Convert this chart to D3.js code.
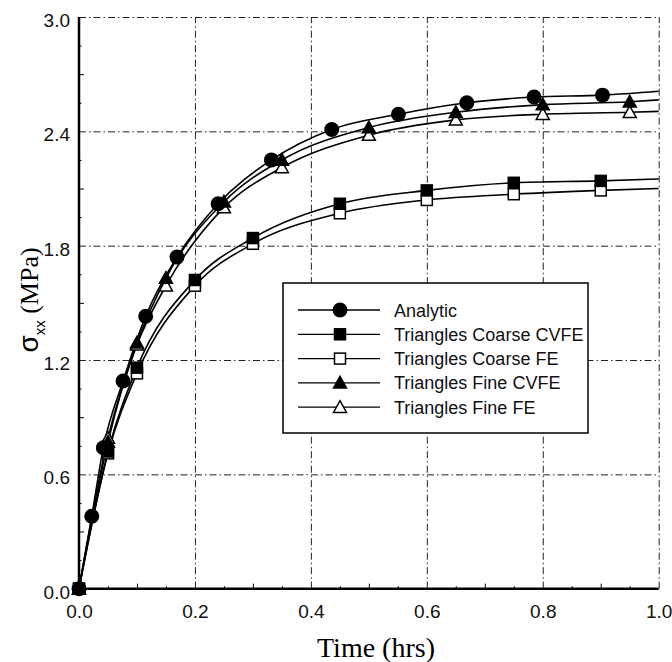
<!DOCTYPE html>
<html lang="en">
<head>
<meta charset="utf-8" />
<title>sigma xx vs time</title>
<script src="https://d3js.org/d3.v7.min.js"></script>
<style>
    body { margin: 0; background: #fff; }
    .tick text { font-family: "Liberation Sans", Arial, sans-serif; font-size: 19px; fill: #111; }
    .legend text { font-family: "Liberation Sans", Arial, sans-serif; font-size: 18px; fill: #111; }
</style>
</head>
<body>
<div id="chart"></div>
<script>
    // ---- data ----
    const seriesNames = ["Analytic", "Triangles Coarse CVFE", "Triangles Coarse FE", "Triangles Fine CVFE", "Triangles Fine FE"];
    const markerTypes = ["circleFilled", "squareFilled", "squareOpen", "triFilled", "triOpen"];

    const analyticT = [0, 0.022, 0.042, 0.076, 0.115, 0.169, 0.24, 0.332, 0.436, 0.551, 0.669, 0.785, 0.903];
    const analyticS = [0, 0.38, 0.74, 1.09, 1.43, 1.74, 2.02, 2.25, 2.41, 2.49, 2.55, 2.58, 2.59];

    const coarseT = [0, 0.05, 0.1, 0.2, 0.3, 0.45, 0.6, 0.75, 0.9];
    const coarseCvfeS = [0, 0.72, 1.16, 1.62, 1.84, 2.02, 2.09, 2.13, 2.14];
    const coarseFeS = [0, 0.71, 1.13, 1.59, 1.81, 1.97, 2.04, 2.07, 2.09];

    const fineT = [0, 0.05, 0.1, 0.15, 0.25, 0.35, 0.5, 0.65, 0.8, 0.95];
    const fineCvfeS = [0, 0.77, 1.29, 1.63, 2.03, 2.25, 2.42, 2.50, 2.54, 2.555];
    const fineFeS = [0, 0.79, 1.28, 1.59, 2.0, 2.21, 2.38, 2.46, 2.49, 2.50];

    // curve values where the lines leave the plot at t = 1.0
    const endValues = [2.61, 2.15, 2.10, 2.565, 2.505];

    const xTicks = [0, 0.2, 0.4, 0.6, 0.8, 1.0];
    const yTicks = [0, 0.6, 1.2, 1.8, 2.4, 3.0];

    const seriesT = [analyticT, coarseT, coarseT, fineT, fineT];
    const seriesS = [analyticS, coarseCvfeS, coarseFeS, fineCvfeS, fineFeS];

    // ---- layout ----
    const W = 672, H = 662;
    const plotL = 79, plotR = 658.7, plotT = 17, plotB = 588.7;

    const x = d3.scaleLinear().domain([0, 1]).range([plotL, plotR]);
    const y = d3.scaleLinear().domain([0, 3]).range([plotB, plotT]);

    const svg = d3.select("#chart").append("svg")
        .attr("width", W)
        .attr("height", H);

    // grid (dash-dot)
    const gridDash = "7,3,1.5,3";
    svg.append("g")
        .attr("transform", "translate(0," + plotB + ")")
        .call(d3.axisBottom(x).tickValues(xTicks.slice(1)).tickSize(-(plotB - plotT)).tickFormat(""))
        .call(g => g.select(".domain").remove())
        .selectAll("line")
            .attr("stroke", "#222")
            .attr("stroke-width", 1)
            .attr("stroke-dasharray", gridDash);

    svg.append("g")
        .attr("transform", "translate(" + plotL + ",0)")
        .call(d3.axisLeft(y).tickValues(yTicks.slice(1)).tickSize(-(plotR - plotL)).tickFormat(""))
        .call(g => g.select(".domain").remove())
        .selectAll("line")
            .attr("stroke", "#222")
            .attr("stroke-width", 1)
            .attr("stroke-dasharray", gridDash);

    // minor ticks (inside)
    const xMinor = d3.range(0.1, 1, 0.2);
    const xTiny = d3.range(0.05, 1, 0.1);
    const yMinor = d3.range(0.3, 3, 0.6);
    const yTiny = d3.range(0.15, 3, 0.3);

    svg.append("g")
        .attr("transform", "translate(0," + plotB + ")")
        .call(d3.axisBottom(x).tickValues(xMinor).tickSize(-5).tickFormat(""))
        .call(g => g.select(".domain").remove());
    svg.append("g")
        .attr("transform", "translate(0," + plotB + ")")
        .call(d3.axisBottom(x).tickValues(xTiny).tickSize(-2.5).tickFormat(""))
        .call(g => g.select(".domain").remove());
    svg.append("g")
        .attr("transform", "translate(" + plotL + ",0)")
        .call(d3.axisLeft(y).tickValues(yMinor).tickSize(-5).tickFormat(""))
        .call(g => g.select(".domain").remove());
    svg.append("g")
        .attr("transform", "translate(" + plotL + ",0)")
        .call(d3.axisLeft(y).tickValues(yTiny).tickSize(-2.5).tickFormat(""))
        .call(g => g.select(".domain").remove());

    // tick labels
    svg.append("g")
        .attr("transform", "translate(0," + plotB + ")")
        .call(d3.axisBottom(x).tickValues(xTicks).tickSize(0).tickPadding(16).tickFormat(d3.format(".1f")))
        .call(g => g.select(".domain").remove());
    svg.append("g")
        .attr("transform", "translate(" + plotL + ",0)")
        .call(d3.axisLeft(y).tickValues(yTicks).tickSize(0).tickPadding(9).tickFormat(d3.format(".1f")))
        .call(g => g.select(".domain").remove())
        .selectAll("text").attr("dy", "0.5em");

    // solid left and bottom axes
    svg.append("line").attr("x1", plotL).attr("x2", plotL).attr("y1", plotT).attr("y2", plotB + 1)
        .attr("stroke", "#000").attr("stroke-width", 2.5);
    svg.append("line").attr("x1", plotL - 1).attr("x2", plotR).attr("y1", plotB).attr("y2", plotB)
        .attr("stroke", "#000").attr("stroke-width", 2.5);

    // curves
    const line = d3.line()
        .x(d => x(d[0]))
        .y(d => y(d[1]))
        .curve(d3.curveMonotoneX);

    const curves = svg.append("g").attr("class", "curves");
    seriesNames.forEach((name, i) => {
        const pts = seriesT[i].map((t, j) => [t, seriesS[i][j]]);
        pts.push([1.0, endValues[i]]);
        curves.append("path")
            .datum(pts)
            .attr("fill", "none")
            .attr("stroke", "#000")
            .attr("stroke-width", 1.6)
            .attr("d", line);
    });

    // markers
    function drawMarker(g, type, cx, cy) {
        if (type === "circleFilled") {
            g.append("circle").attr("cx", cx).attr("cy", cy).attr("r", 7.5).attr("fill", "#000");
        } else if (type === "squareFilled" || type === "squareOpen") {
            g.append("rect").attr("x", cx - 5.5).attr("y", cy - 5.5).attr("width", 11).attr("height", 11)
                .attr("fill", type === "squareFilled" ? "#000" : "#fff")
                .attr("stroke", "#000").attr("stroke-width", 1.5);
        } else {
            const s = 6.5;
            g.append("path")
                .attr("d", "M" + cx + "," + (cy - s) + "L" + (cx + s) + "," + (cy + s * 0.8) + "L" + (cx - s) + "," + (cy + s * 0.8) + "Z")
                .attr("fill", type === "triFilled" ? "#000" : "#fff")
                .attr("stroke", "#000").attr("stroke-width", 1.5);
        }
    }

    const markerOrder = [2, 1, 4, 3, 0];
    const marks = svg.append("g").attr("class", "markers");
    markerOrder.forEach(i => {
        seriesT[i].forEach((t, j) => drawMarker(marks, markerTypes[i], x(t), y(seriesS[i][j])));
    });

    // legend
    const lgX = 283, lgY = 283, lgW = 305, lgH = 150, rowH = 24.3;
    const legend = svg.append("g").attr("class", "legend");
    legend.append("rect")
        .attr("x", lgX).attr("y", lgY).attr("width", lgW).attr("height", lgH)
        .attr("fill", "#fff").attr("stroke", "#000").attr("stroke-width", 1.5);

    seriesNames.forEach((name, i) => {
        const ry = lgY + 27 + i * rowH;
        legend.append("line")
            .attr("x1", lgX + 15).attr("x2", lgX + 97).attr("y1", ry).attr("y2", ry)
            .attr("stroke", "#000").attr("stroke-width", 1.3);
        drawMarker(legend, markerTypes[i], lgX + 57, ry);
        legend.append("text")
            .attr("x", lgX + 111).attr("y", ry + 6.5)
            .text(name);
    });

    // axis titles
    svg.append("text")
        .attr("x", 376).attr("y", 657)
        .attr("text-anchor", "middle")
        .style("font-family", "'Liberation Serif', 'Times New Roman', serif")
        .style("font-size", "28px")
        .text("Time (hrs)");

    const yTitle = svg.append("text")
        .attr("transform", "translate(38,300) rotate(-90)")
        .attr("text-anchor", "middle")
        .style("font-family", "'Liberation Serif', 'Times New Roman', serif")
        .style("font-size", "26px");
    yTitle.append("tspan")
        .style("font-family", "'Liberation Sans', Arial, sans-serif")
        .style("font-size", "28px")
        .text("σ");
    yTitle.append("tspan")
        .attr("dy", 7)
        .style("font-family", "'Liberation Sans', Arial, sans-serif")
        .style("font-size", "15px")
        .text("xx");
    yTitle.append("tspan")
        .attr("dy", -7)
        .text(" (MPa)");
</script>
</body>
</html>
